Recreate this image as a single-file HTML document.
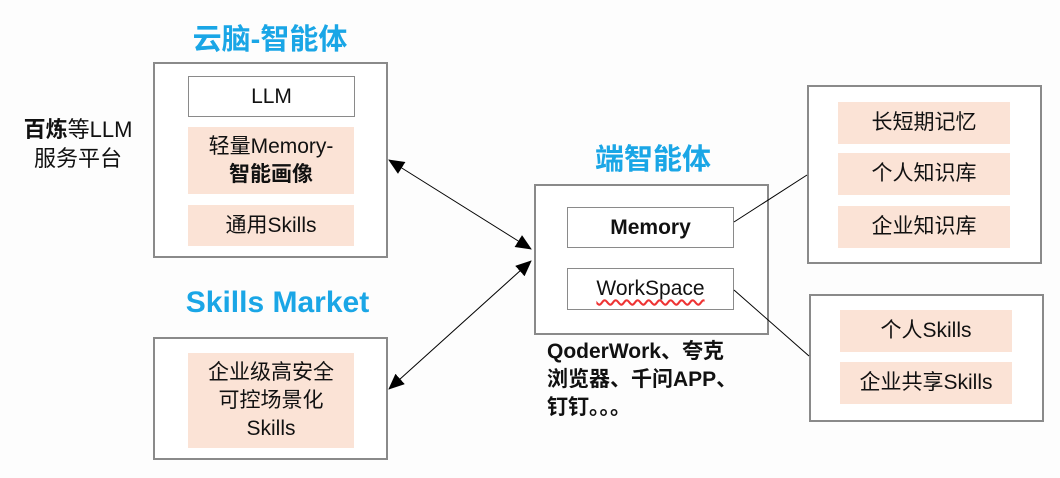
<!DOCTYPE html>
<html><head><meta charset="utf-8"><style>
body{margin:0;width:1060px;height:478px;background:#fdfdfd;position:relative;overflow:hidden;font-family:"Liberation Sans","Noto Sans CJK SC",sans-serif;}
.a{position:absolute;box-sizing:border-box;}
.box{border:2px solid #8a8a8a;background:#fff;}
.w{border:1px solid #8a8a8a;background:#fff;display:flex;align-items:center;justify-content:center;font-size:21px;color:#111;}
.p{background:#fbe3d6;display:flex;align-items:center;justify-content:center;text-align:center;font-size:21px;color:#111;line-height:28px;}
.t{color:#1aa6e6;font-weight:bold;font-size:29px;text-align:center;}
</style></head><body>
<div class="a t" style="left:140px;top:16px;width:260px;">云脑-智能体</div>
<div class="a box" style="left:153px;top:62px;width:235px;height:196px;"></div>
<div class="a w" style="left:188px;top:76px;width:167px;height:41px;">LLM</div>
<div class="a p" style="left:188px;top:127px;width:166px;height:67px;"><div>轻量Memory-<br><b>智能画像</b></div></div>
<div class="a p" style="left:188px;top:205px;width:166px;height:41px;">通用Skills</div>
<div class="a" style="left:10px;top:115px;width:136px;font-size:22px;line-height:29px;color:#111;text-align:center;"><b>百炼</b>等LLM<br>服务平台</div>
<div class="a t" style="left:140px;top:286px;width:275px;font-size:30px;">Skills Market</div>
<div class="a box" style="left:153px;top:337px;width:235px;height:123px;"></div>
<div class="a p" style="left:188px;top:353px;width:166px;height:95px;"><div>企业级高安全<br>可控场景化<br>Skills</div></div>
<div class="a t" style="left:550px;top:136px;width:206px;">端智能体</div>
<div class="a box" style="left:534px;top:184px;width:235px;height:151px;"></div>
<div class="a w" style="left:567px;top:207px;width:167px;height:41px;font-weight:bold;">Memory</div>
<div class="a w" style="left:567px;top:268px;width:167px;height:42px;"><span style="text-decoration:underline wavy #e33;text-underline-offset:4px;">WorkSpace</span></div>
<div class="a" style="left:547px;top:338px;font-size:21px;font-weight:bold;line-height:28px;color:#111;">QoderWork、夸克<br>浏览器、千问APP、<br>钉钉。。。</div>
<div class="a box" style="left:807px;top:85px;width:235px;height:179px;"></div>
<div class="a p" style="left:838px;top:102px;width:172px;height:42px;">长短期记忆</div>
<div class="a p" style="left:838px;top:153px;width:172px;height:42px;">个人知识库</div>
<div class="a p" style="left:838px;top:206px;width:172px;height:42px;">企业知识库</div>
<div class="a box" style="left:809px;top:294px;width:235px;height:128px;"></div>
<div class="a p" style="left:840px;top:310px;width:172px;height:42px;">个人Skills</div>
<div class="a p" style="left:840px;top:362px;width:172px;height:42px;">企业共享Skills</div>
<svg class="a" style="left:0;top:0" width="1060" height="478">
<defs><marker id="n" markerWidth="16" markerHeight="14" refX="15" refY="7" orient="auto-start-reverse" markerUnits="userSpaceOnUse"><path d="M0,0 L16,7 L0,14z" fill="#000"/></marker></defs>
<line x1="389" y1="160" x2="531" y2="249" stroke="#000" stroke-width="1" marker-start="url(#n)" marker-end="url(#n)"/>
<line x1="389" y1="389" x2="531" y2="261" stroke="#000" stroke-width="1" marker-start="url(#n)" marker-end="url(#n)"/>
<line x1="734" y1="222" x2="807" y2="175" stroke="#000" stroke-width="1"/>
<line x1="734" y1="290" x2="809" y2="356" stroke="#000" stroke-width="1"/>
</svg>
</body></html>
